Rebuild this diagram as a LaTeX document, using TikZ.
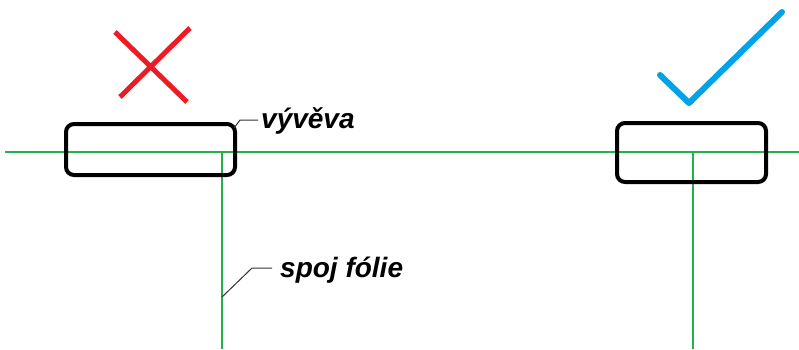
\documentclass[tikz,border=0pt]{standalone}
\usepackage{fontspec}
\setmainfont{Liberation Sans}
\definecolor{pgreen}{HTML}{22B14C}
\definecolor{pred}{HTML}{ED1C24}
\definecolor{pblue}{HTML}{00A2E8}
\begin{document}
\begin{tikzpicture}[x=1pt,y=-1pt,
  pump/.style={draw=black,line width=4pt,rounded corners=8pt},
  foil/.style={draw=pgreen,line width=1.5pt},
  leader/.style={draw=black!80,line width=1pt},
  lbl/.style={font=\fontsize{28}{30}\selectfont\bfseries\itshape,anchor=base west,inner sep=0pt}]
\useasboundingbox[fill=white] (0,0) rectangle (799,349);
% foil lines
\coordinate (hl) at (5,152);
\coordinate (hr) at (799,152);
\draw[foil] (hl) -- (hr);
\coordinate (v1t) at (222,152);
\coordinate (v1b) at (222,349);
\draw[foil] (v1t) -- (v1b);
\coordinate (v2t) at (693,152);
\coordinate (v2b) at (693,349);
\draw[foil] (v2t) -- (v2b);
% pumps
\draw[pump] (66,124) rectangle (235,175);
\draw[pump] (617,123) rectangle (766,182);
\coordinate (b1) at (234,128);
% labels
\node[lbl] (vyveva) at (261,128) {vývěva};
\node[lbl] (spoj) at (280,277) {spoj fólie};
\coordinate (l1) at (240,120);
\coordinate (l1e) at (258,120);
\draw[leader] (b1) -- (l1) -- (l1e);
\coordinate (s0) at (222,297);
\coordinate (s1) at (252,268);
\coordinate (s2) at (272,268);
\draw[leader] (s0) -- (s1) -- (s2);
% red X
\coordinate (x1) at (115,32);
\coordinate (x2) at (187,102);
\coordinate (x3) at (190,28);
\coordinate (x4) at (120,97);
\draw[pred,line width=5pt] (x1) -- (x2) (x3) -- (x4);
% blue check
\coordinate (c1) at (660,75);
\coordinate (c2) at (689,103);
\coordinate (c3) at (782,12);
\draw[pblue,line width=6pt,line cap=round,line join=round] (c1) -- (c2) -- (c3);
\end{tikzpicture}
\end{document}
